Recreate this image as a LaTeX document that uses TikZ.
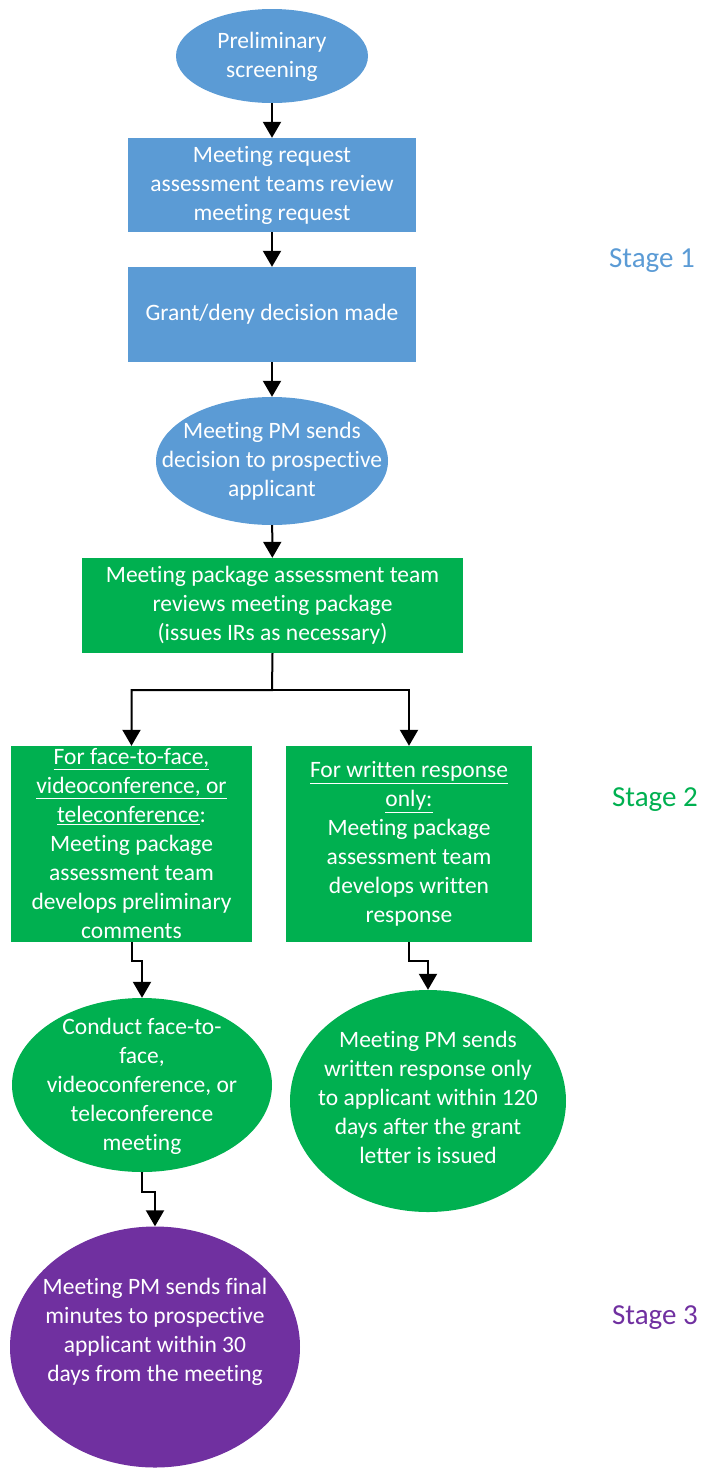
\documentclass[tikz,border=0pt]{standalone}
\usepackage{fontspec}
\setmainfont[Ligatures=NoCommon]{Carlito}
\usetikzlibrary{shapes.geometric,arrows.meta}
\definecolor{sblue}{HTML}{5B9BD5}
\definecolor{sgreen}{HTML}{00B050}
\definecolor{spurple}{HTML}{7030A0}
\tikzset{
  base/.style={inner sep=0pt, text=white, align=center, font=\fontsize{23.5}{29}\selectfont},
  bbox/.style={base, rectangle, fill=sblue},
  bell/.style={inner sep=0pt, ellipse, fill=sblue},
  gbox/.style={base, rectangle, fill=sgreen},
  gell/.style={inner sep=0pt, ellipse, fill=sgreen},
  pell/.style={inner sep=0pt, ellipse, fill=spurple},
  arr/.style={draw=black, line width=2pt, -{Triangle[width=18pt,length=16pt]}},
  stagelbl/.style={inner sep=0pt, font=\fontsize{29}{34}\selectfont},
}
\begin{document}
\begin{tikzpicture}[x=1pt,y=-1pt]
\useasboundingbox (0,0) rectangle (702,1468);
\node[bell, minimum width=192pt, minimum height=94pt] (e1) at (272,56) {};
\node[base] (t1) at (272,57) {Preliminary\\screening};
\node[bbox, minimum width=288pt, minimum height=94pt] (r2) at (272,185) {Meeting request\\assessment teams review\\meeting request};
\node[bbox, minimum width=288pt, minimum height=95pt] (r3) at (272,314.5) {Grant/deny decision made};
\node[bell, minimum width=232pt, minimum height=128pt] (e4) at (272,461) {};
\node[base] (t4) at (272,461) {Meeting PM sends\\decision to prospective\\applicant};
\node[gbox, minimum width=381pt, minimum height=95pt] (r5) at (272.5,605.5) {Meeting package assessment team\\reviews meeting package\\(issues IRs as necessary)};
\node[gbox, minimum width=241pt, minimum height=196pt] (r6) at (131.5,844) {\underline{For face-to-face,}\\\underline{videoconference, or}\\\underline{teleconference}:\\Meeting package\\assessment team\\develops preliminary\\comments};
\node[gbox, minimum width=246pt, minimum height=196pt] (r7) at (409,844) {\underline{For written response}\\\underline{only:}\\Meeting package\\assessment team\\develops written\\response};
\node[gell, minimum width=260pt, minimum height=174pt] (e8) at (142,1085) {};
\node[base] (t8) at (142,1086) {Conduct face-to-\\face,\\videoconference, or\\teleconference\\meeting};
\node[gell, minimum width=276pt, minimum height=222pt] (e9) at (428,1101) {};
\node[base] (t9) at (428,1097) {Meeting PM sends\\written response only\\to applicant within 120\\days after the grant\\letter is issued};
\node[pell, minimum width=290pt, minimum height=241pt] (e10) at (155,1347) {};
\node[base] (t10) at (155,1332) {Meeting PM sends final\\minutes to prospective\\applicant within 30\\days from the meeting};

\node[stagelbl, text=sblue] (s1) at (652,261) {Stage 1};
\node[stagelbl, text=sgreen] (s2) at (655,800) {Stage 2};
\node[stagelbl, text=spurple] (s3) at (655,1318) {Stage 3};

\coordinate (split) at (272,690);
\coordinate (j1) at (142,961);
\coordinate (j2) at (428,961);
\coordinate (j3) at (155,1192);

\draw[arr] (e1) -- (r2);
\draw[arr] (r2) -- (r3);
\draw[arr] (r3) -- (e4);
\draw[arr] (e4) -- (r5);
\draw[arr] (r5.south) -- (split) -| (r6.north);
\draw[arr] (split) -| (r7.north);
\draw[arr] (r6.south) |- (j1) -- (e8.north);
\draw[arr] (r7.south) |- (j2) -- (e9.north);
\draw[arr] (e8.south) |- (j3) -- (e10.north);
\end{tikzpicture}
\end{document}
